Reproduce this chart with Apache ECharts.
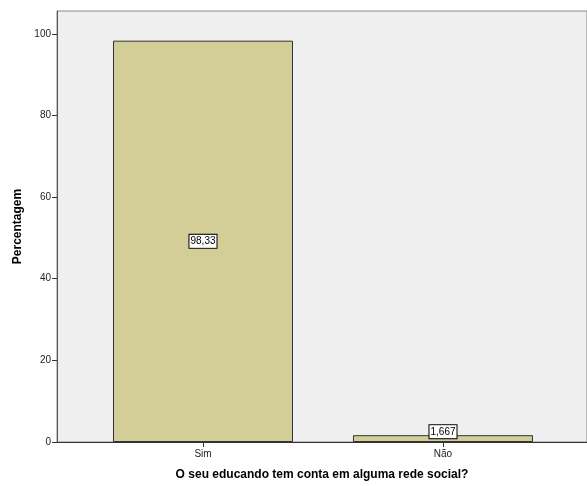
<!DOCTYPE html>
<html><head><meta charset="utf-8">
<script src="https://cdn.jsdelivr.net/npm/echarts@6/dist/echarts.min.js"></script>
<style>html,body{margin:0;padding:0;background:#fff}#c{width:587px;height:486px}</style>
</head><body><div id="c"></div>
<script>
const categories = ['Sim', 'Não'];
const values = [98.33, 1.667];
const valueLabels = ['98,33', '1,667'];
const yTicks = [0, 20, 40, 60, 80, 100];

const chart = echarts.init(document.getElementById('c'));
const font = 'Liberation Sans, Arial, sans-serif';
chart.setOption({
  animation: false,
  grid: { left: 57, top: 11, right: 0, bottom: 44, outerBoundsMode: 'none', containLabel: false, show: true, backgroundColor: '#efefef', borderColor: '#888', borderWidth: 1 },
  xAxis: {
    type: 'value', min: -0.6083, max: 1.6,
    splitLine: { show: false },
    axisLine: { show: true, onZero: false, lineStyle: { color: '#333', width: 1 } },
    axisTick: { show: true, length: 5, lineStyle: { color: '#333' }, customValues: [0, 1] },
    axisLabel: { customValues: [0, 1], formatter: v => categories[Math.round(v)], color: '#222', fontSize: 10, fontFamily: font, margin: 7 },
    name: 'O seu educando tem conta em alguma rede social?',
    nameLocation: 'middle', nameGap: 27,
    nameTextStyle: { fontFamily: font, fontSize: 12, fontWeight: 'bold', color: '#000' }
  },
  yAxis: {
    type: 'value', min: 0, max: 105.6,
    splitLine: { show: false },
    axisLine: { show: true, onZero: false, lineStyle: { color: '#555', width: 1 } },
    axisTick: { show: true, length: 5, lineStyle: { color: '#333' }, customValues: yTicks },
    axisLabel: { customValues: yTicks, color: '#222', fontSize: 10, fontFamily: font, margin: 6 },
    name: 'Percentagem', nameLocation: 'middle', nameGap: 33, nameRotate: 90,
    nameTextStyle: { fontFamily: font, fontSize: 12, fontWeight: 'bold', color: '#000' }
  },
  series: [{
    type: 'bar',
    barWidth: 180,
    itemStyle: { color: '#d3ce98', borderColor: '#333', borderWidth: 1 },
    data: [
      { value: [0, values[0]], label: { position: 'inside' } },
      { value: [1, values[1]], label: { position: 'top', distance: -3 } }
    ],
    label: {
      show: true,
      formatter: p => valueLabels[p.dataIndex],
      fontFamily: font, fontSize: 10, color: '#000',
      backgroundColor: '#fff', borderColor: '#000', borderWidth: 1,
      padding: [2, 1, 1, 1]
    }
  }]
});
</script></body></html>
